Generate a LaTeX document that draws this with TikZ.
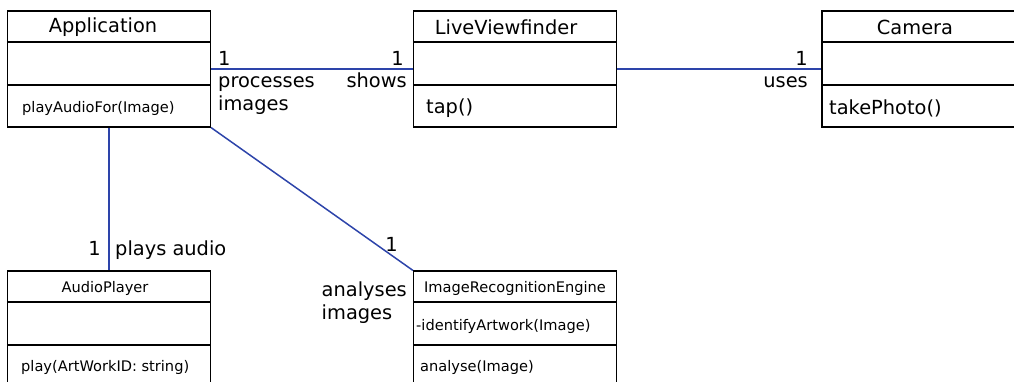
\documentclass[tikz,border=0pt]{standalone}
\usepackage{fontspec}
\setmainfont{DejaVu Sans}
\definecolor{assocblue}{RGB}{45,68,170}

\begin{document}
\begin{tikzpicture}[x=1pt,y=-1pt,
  classbox/.style={draw,line width=1.2pt,minimum width=203pt,minimum height=116pt,inner sep=0pt},
  divider/.style={line width=2pt},
  big/.style={inner sep=0pt,font=\fontsize{19.4}{23}\selectfont},
  small/.style={inner sep=0pt,font=\fontsize{14.6}{17}\selectfont},
  assoc/.style={draw=assocblue,line width=1.5pt}]

  \useasboundingbox(0,0) rectangle (1014,381);
  \clip(0,0) rectangle (1014,381);

  % classes
  \node[classbox](application) at (109,69){};
  \node[classbox](viewfinder) at (515,69){};
  \node[classbox](camera) at (923.5,69){};
  \node[classbox](audioplayer) at (109,329){};
  \node[classbox](engine) at (515,329){};

  \foreach \c in {application,viewfinder,camera,audioplayer,engine}{
    \draw[divider]([yshift=-32pt]\c.north west)--([yshift=-32pt]\c.north east);
    \draw[divider]([yshift=-75pt]\c.north west)--([yshift=-75pt]\c.north east);
  }

  \node[big](apptitle) at (103,27){Application};
  \node[small,anchor=west](appop) at (22,108){playAudioFor(Image)};

  \node[big](viewtitle) at (506,27){LiveViewfinder};
  \node[big,anchor=west](viewop) at (426,108){tap()};

  \node[big](camtitle) at (915,27){Camera};
  \node[big,anchor=west](camop) at (829,108){takePhoto()};

  \node[small](audiotitle) at (105,288){AudioPlayer};
  \node[small,anchor=west](audioop) at (21,367){play(ArtWorkID: string)};

  \node[small](enginetitle) at (515,288){ImageRecognitionEngine};
  \node[small,anchor=west](engineattr) at (416,326){-identifyArtwork(Image)};
  \node[small,anchor=west](engineop) at (420,367){analyse(Image)};

  % associations
  \draw[assoc](application.east)--(viewfinder.west);
  \draw[assoc](viewfinder.east)--(camera.west);
  \draw[assoc](application.south)--(audioplayer.north);
  \draw[assoc](application.south east)--(engine.north west);

  \node[big,anchor=base west](appone) at (218,65){1};
  \node[big,anchor=base west](processes) at (218,87){processes};
  \node[big,anchor=base west](processimg) at (218,110){images};
  \node[big,anchor=base east](viewone) at (404,65){1};
  \node[big,anchor=base east](shows) at (407,87){shows};

  \node[big,anchor=base east](camone) at (808,65){1};
  \node[big,anchor=base east](uses) at (808,87){uses};

  \node[big,anchor=base east](audioone) at (101,255){1};
  \node[big,anchor=base west](plays) at (115,255){plays audio};

  \node[big,anchor=base east](engineone) at (398,251){1};
  \node[big,anchor=base east](analyses) at (407,296){analyses};
  \node[big,anchor=base west,yshift=-23pt](analyseimg) at (analyses.base west){images};

\end{tikzpicture}
\end{document}
